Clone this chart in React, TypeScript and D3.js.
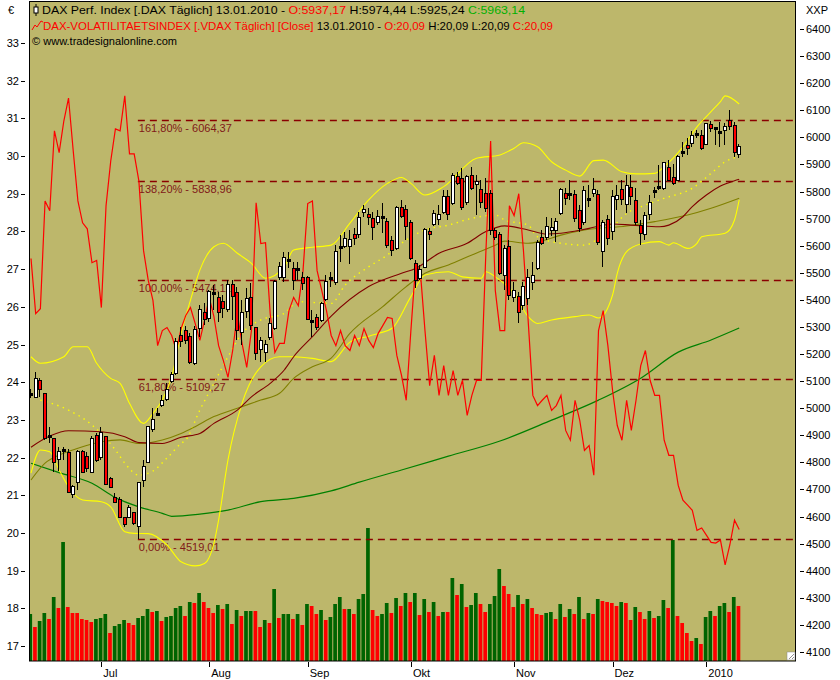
import React from "react";
import * as d3 from "d3";

// ---------- DATA ----------
const monthLabels = ["Jul", "Aug", "Sep", "Okt", "Nov", "Dez", "2010"];
const monthTickIdx = [15, 38, 59, 81, 103, 124, 144];
const leftTicks = [17, 18, 19, 20, 21, 22, 23, 24, 25, 26, 27, 28, 29, 30, 31, 32, 33];
const rightTicks = d3.range(4100, 6401, 100);

const daxOpen = [5049,5040,5100,5052,4898,4886,4811,4842,4836,4682,
 4726,4837,4821,4765,4897,4821,4892,4738,4670,4661,
 4593,4599,4612,4566,4735,4800,4922,4976,5012,5034,
 5100,5129,5268,5285,5264,5168,5295,5350,5332,5420,
 5406,5391,5365,5455,5424,5282,5360,5406,5295,5217,
 5209,5262,5295,5483,5483,5545,5514,5512,5480,5480,
 5323,5332,5326,5402,5480,5465,5595,5600,5600,5639,
 5642,5723,5713,5698,5686,5705,5686,5617,5592,5738,
 5732,5683,5531,5479,5522,5649,5679,5700,5725,5781,
 5756,5852,5846,5760,5857,5828,5806,5790,5790,5654,
 5639,5492,5596,5412,5412,5381,5406,5465,5516,5629,
 5633,5658,5658,5719,5790,5790,5787,5728,5689,5771,
 5793,5787,5580,5695,5654,5771,5806,5753,5812,5766,
 5673,5643,5716,5803,5815,5812,5886,5849,5843,5943,
 5968,5978,6012,6005,5974,6046,6033,6019,6027,6059,
 6042,5937.17];
const daxHigh = [5071,5132,5110,5056,4932,4889,4856,4858,4848,4716,
 4846,4846,4839,4897,4910,4932,4897,4747,4686,4673,
 4599,4643,4618,4723,4809,4932,5000,5002,5049,5092,
 5134,5259,5300,5304,5278,5303,5381,5388,5436,5455,
 5429,5418,5473,5473,5447,5399,5444,5462,5300,5263,
 5252,5333,5473,5540,5577,5577,5540,5540,5503,5488,
 5362,5348,5392,5492,5503,5603,5639,5651,5658,5665,
 5724,5750,5739,5724,5732,5758,5702,5636,5746,5769,
 5750,5695,5547,5529,5665,5665,5732,5750,5806,5806,
 5868,5872,5887,5861,5890,5861,5842,5850,5806,5665,
 5651,5602,5621,5466,5429,5466,5514,5540,5621,5658,
 5706,5702,5702,5813,5813,5842,5806,5750,5820,5824,
 5850,5806,5695,5713,5806,5824,5842,5861,5861,5813,
 5695,5724,5787,5817,5898,5909,5916,5901,5935,5983,
 5998,6023,6027,6027,6053,6060,6038,6057,6053,6101,
 6057,5974.44];
const daxLow = [5038,5036,5042,4882,4870,4765,4769,4809,4690,4669,
 4698,4760,4765,4760,4802,4809,4716,4704,4649,4593,
 4562,4597,4569,4519,4710,4798,4913,4971,5005,5028,
 5093,5122,5226,5237,5163,5159,5263,5307,5318,5362,
 5318,5333,5355,5326,5252,5233,5333,5289,5178,5171,
 5171,5252,5289,5473,5466,5518,5436,5473,5436,5326,
 5264,5289,5318,5396,5447,5455,5540,5591,5532,5602,
 5628,5706,5676,5621,5676,5647,5591,5562,5584,5702,
 5621,5547,5444,5473,5518,5621,5673,5676,5717,5695,
 5750,5824,5732,5750,5806,5713,5739,5724,5639,5621,
 5492,5436,5399,5392,5314,5362,5381,5436,5510,5602,
 5621,5636,5614,5713,5750,5769,5687,5651,5676,5743,
 5780,5602,5520,5602,5621,5732,5750,5721,5750,5676,
 5602,5621,5695,5776,5806,5806,5839,5824,5839,5927,
 5935,5964,5998,5953,5972,6020,5972,5964,5972,6027,
 5927,5925.24];
const daxClose = [5054,5108,5070,4889,4892,4800,4837,4846,4692,4708,
 4839,4765,4778,4885,4809,4910,4719,4708,4652,4597,
 4571,4633,4575,4723,4782,4929,4956,4979,5028,5069,
 5121,5245,5249,5252,5172,5289,5362,5328,5429,5424,
 5356,5371,5455,5415,5289,5350,5402,5307,5203,5249,
 5233,5311,5465,5520,5556,5547,5473,5514,5463,5328,
 5320,5301,5385,5467,5482,5575,5597,5623,5621,5629,
 5701,5732,5705,5668,5707,5703,5602,5584,5738,5710,
 5674,5553,5473,5510,5658,5642,5716,5713,5781,5716,
 5857,5830,5744,5852,5812,5836,5762,5738,5658,5633,
 5498,5588,5418,5433,5354,5446,5480,5488,5611,5611,
 5668,5664,5686,5806,5777,5791,5701,5664,5802,5771,
 5806,5615,5685,5627,5779,5783,5771,5820,5785,5689,
 5648,5710,5756,5803,5816,5904,5843,5830,5928,5945,
 5959,6005,6013,5960,6049,6033,6034,6019,6037,6041,
 5945,5963.14];

const vdaxClose = [27.28,25.82,25.95,28.81,28.55,30.67,30.09,30.93,31.54,30.14,
 28.81,28.23,28.07,27.17,27.23,25.98,28.68,29.87,30.72,30.67,
 31.60,30.06,30.06,29.34,27.49,26.70,26.17,24.97,25.37,25.45,
 25.24,24.84,25.42,25.77,25.98,25.56,25.11,25.64,26.25,25.74,
 24.97,24.58,24.13,24.84,25.82,25.03,24.39,25.37,28.76,27.68,
 27.70,25.82,24.79,25.03,25.03,25.90,26.25,26.03,26.96,28.74,
 28.81,26.96,26.43,25.90,25.24,24.97,25.37,24.97,24.84,25.24,
 24.97,25.42,25.11,24.92,25.29,25.50,25.72,25.69,24.71,24.18,
 23.52,25.37,27.09,26.96,25.37,23.91,24.71,23.65,24.44,23.65,
 24.31,23.65,24.05,23.12,23.65,24.05,24.05,27.49,30.40,26.43,
 25.37,25.37,28.68,28.42,29.00,27.49,25.64,23.65,23.38,23.52,
 23.65,23.25,23.38,23.65,22.72,22.46,23.52,22.99,22.19,22.32,
 21.53,25.37,25.90,24.97,23.78,22.85,22.46,23.52,22.72,23.52,
 24.44,24.84,24.05,23.65,23.65,22.46,22.06,22.06,21.26,20.87,
 20.74,20.60,20.07,20.13,19.94,19.75,19.73,19.81,19.15,19.68,
 20.34,20.09];

const volume = [47,34,40,48,42,64,53,119,54,48,
 48,42,41,39,42,43,47,28,35,37,
 41,38,36,43,45,52,49,50,40,44,
 45,53,55,45,59,58,68,59,53,48,
 56,52,57,37,51,45,50,50,50,34,
 41,38,72,43,47,47,42,47,36,57,
 55,47,51,41,44,57,64,52,52,47,
 62,67,133,51,45,47,58,48,63,55,
 68,59,68,46,62,49,59,45,49,49,
 83,66,77,54,56,68,57,49,57,65,
 92,75,67,54,66,57,62,53,47,46,
 48,49,42,57,44,52,47,64,42,48,
 47,62,60,59,58,55,59,58,41,54,
 49,42,50,43,45,61,53,121,45,38,
 28,20,23,17,44,50,45,55,58,49,
 64,55];
const volumeDir = ("grggrgrgrr" + "rrrrgggrgg" + "grrgggrgrg" + "gggrgrgrrr" + "grgrgrggrr" +
  "grgrggrgrg" + "rrgrgggrgr" + "gggrrggrgr" + "grgrgrgrgr" + "grgrggrrgg" +
  "grrrgrgrrr" + "ggrgrgrgrg" + "rgrrrrgrrg" + "rrgrggrgrr" + "rrgrggrggr" + "gr").split("");

// indicator readings: [bar index, DAX points]
const bbUpper = [[0,5190],[2,5166],[7,5190],[9,5227],[12,5227],[14,5166],[17,5110],[19,5092],[21,5018],[24,4944],[26,4981],[28,5030],[30,5116],[32,5276],[34,5399],[36,5510],[39,5596],[41,5609],[44,5572],[47,5535],[50,5480],[54,5522],[56,5584],[60,5594],[64,5602],[68,5683],[72,5769],[76,5830],[79,5852],[81,5830],[84,5787],[88,5818],[95,5923],[100,5935],[103,5960],[105,5980],[108,5965],[111,5910],[114,5879],[117,5857],[120,5914],[122,5916],[126,5873],[129,5865],[133,5867],[135,5892],[139,5965],[142,6039],[145,6095],[147,6132],[148,6153],[151,6123]];
const bbLower = [[0,4760],[2,4846],[4,4839],[6,4772],[8,4710],[11,4661],[15,4655],[17,4636],[20,4544],[22,4538],[25,4537],[29,4495],[32,4433],[35,4418],[37,4427],[39,4501],[40,4587],[42,4809],[45,5018],[49,5153],[53,5190],[56,5190],[60,5184],[64,5172],[68,5244],[72,5266],[74,5276],[77,5295],[81,5412],[84,5492],[89,5504],[92,5485],[96,5480],[97,5504],[99,5485],[103,5424],[106,5338],[108,5313],[111,5326],[116,5338],[119,5344],[121,5333],[124,5418],[125,5498],[127,5578],[130,5606],[134,5615],[136,5602],[137,5611],[140,5590],[142,5609],[143,5633],[148,5646],[150,5695],[151,5769]];
const bbMiddle = [[2,5030],[8,4993],[13,4938],[18,4846],[20,4797],[23,4753],[26,4768],[29,4816],[32,4870],[33,4883],[36,4993],[39,5092],[42,5190],[45,5276],[49,5326],[54,5350],[57,5393],[64,5387],[67,5455],[72,5522],[76,5566],[79,5609],[84,5658],[89,5676],[94,5701],[99,5713],[101,5695],[106,5676],[108,5633],[113,5609],[118,5602],[121,5627],[124,5670],[127,5719],[131,5750],[135,5775],[141,5812],[145,5867],[148,5910],[151,5929]];
const maShort = [[0,4856],[4,4897],[8,4917],[15,4913],[20,4895],[23,4873],[28,4870],[32,4893],[36,4907],[39,4944],[44,4993],[47,5042],[51,5092],[54,5141],[56,5190],[60,5264],[64,5340],[72,5449],[79,5498],[82,5516],[87,5572],[93,5609],[97,5652],[101,5673],[106,5658],[110,5643],[113,5646],[119,5664],[124,5680],[128,5676],[134,5670],[136,5676],[139,5707],[141,5744],[144,5787],[147,5820],[150,5840],[151,5845]];
const maMid = [[0,4735],[3,4797],[6,4827],[10,4852],[15,4876],[19,4883],[23,4870],[28,4883],[32,4907],[35,4932],[39,4969],[44,5000],[49,5030],[53,5055],[56,5110],[60,5153],[64,5185],[68,5276],[75,5375],[80,5449],[84,5498],[89,5529],[94,5566],[99,5602],[101,5617],[106,5609],[109,5618],[113,5639],[118,5658],[127,5673],[133,5689],[140,5713],[145,5738],[151,5775]];
const maLong = [[0,4797],[6,4762],[13,4723],[18,4670],[23,4636],[28,4612],[30,4601],[36,4609],[42,4624],[49,4655],[56,4667],[64,4695],[70,4727],[79,4772],[89,4823],[100,4879],[111,4956],[121,5030],[130,5111],[138,5207],[145,5252],[151,5296]];

const fibPct = ["161,80%", "138,20%", "100,00%", "61,80%", "0,00%"];
const fibVal = [6064.37, 5838.96, 5474.11, 5109.27, 4519.01];
const fibStartIdx = 23;

const FONT = "'Liberation Sans', Arial, sans-serif";

export default function App() {
  const PL = 29, PR = 796, PT = 1, PB = 661;
  const x = d3.scaleLinear().domain([0, 151]).range([31, 739.2]);
  const yR = d3.scaleLinear().domain([4100, 6400]).range([652, 29]);
  const yL = d3.scaleLinear().domain([17, 33]).range([646, 43]);
  const yVol = d3.scaleLinear().domain([0, 140]).range([PB, PB - 140]);

  const priceLine = d3.line<number[]>().x(d => x(d[0])).y(d => yR(d[1])).curve(d3.curveMonotoneX);
  const vdaxLine = d3.line<number>().x((_, i) => x(i)).y(d => yL(d));
  const fmt = (v: number) => v.toFixed(2).replace(".", ",");

  return (
    <svg width={840} height={680} style={{ position: "absolute", left: 0, top: 0, display: "block" }}
      fontFamily={FONT} fontSize={11}>
      <rect x={0} y={0} width={840} height={680} fill="#ffffff" />
      <defs>
        <clipPath id="plotClip">
          <rect x={PL + 0.5} y={PT} width={PR - PL - 0.5} height={PB - PT} />
        </clipPath>
      </defs>
      <rect x={PL} y={PT} width={PR - PL} height={PB - PT} fill="#BDB76B" />

      <g clipPath="url(#plotClip)">
        {/* volume */}
        {volume.map((v, i) => (
          <rect key={"v" + i} x={x(i) - 2.6} y={yVol(v)} width={3.7} height={PB - yVol(v)}
            fill={volumeDir[i] === "g" ? "#006400" : "#FF0000"} />
        ))}

        {/* fibonacci levels */}
        {fibVal.map((v, i) => (
          <g key={"f" + i}>
            <line x1={x(fibStartIdx) - 1} x2={PR} y1={Math.round(yR(v)) + 0.5} y2={Math.round(yR(v)) + 0.5}
              stroke="#8B0000" strokeWidth={1.3} strokeDasharray="7,5" />
            <text x={x(fibStartIdx)} y={yR(v) + 12.5} fill="#801818">{`${fibPct[i]} - ${fmt(v)}`}</text>
          </g>
        ))}

        {/* indicators */}
        <path d={priceLine(maLong as any) || ""} fill="none" stroke="#008000" strokeWidth={1.2} />
        <path d={priceLine(bbUpper as any) || ""} fill="none" stroke="#FFFF00" strokeWidth={1.1} />
        <path d={priceLine(bbLower as any) || ""} fill="none" stroke="#FFFF00" strokeWidth={1.1} />
        <path d={priceLine(bbMiddle as any) || ""} fill="none" stroke="#FFFF00" strokeWidth={1.4} strokeDasharray="1.4,4.5" />
        <path d={priceLine(maMid as any) || ""} fill="none" stroke="#808000" strokeWidth={1.1} />
        <path d={priceLine(maShort as any) || ""} fill="none" stroke="#800000" strokeWidth={1.1} />

        {/* VDAX */}
        <path d={vdaxLine(vdaxClose) || ""} fill="none" stroke="#FF0000" strokeWidth={1.2} />

        {/* candles */}
        {daxClose.map((c, i) => {
          const o = daxOpen[i];
          const cx = Math.round(x(i));
          const top = Math.round(yR(Math.max(o, c)));
          const bot = Math.round(yR(Math.min(o, c)));
          const h = Math.max(bot - top, 1);
          const up = c >= o;
          return (
            <g key={"c" + i} shapeRendering="crispEdges">
              <rect x={cx - 1} y={Math.round(yR(daxHigh[i]))} width={1} height={Math.max(1, Math.round(yR(daxLow[i])) - Math.round(yR(daxHigh[i])))} fill="#000" />
              <rect x={cx - 2} y={top - 1} width={4} height={h + 2} fill="#000" />
              {h > 1 && <rect x={cx - 1} y={top} width={2} height={h} fill={up ? "#FFFFFF" : "#FF0000"} />}
            </g>
          );
        })}
      </g>

      {/* frame */}
      <rect x={PL + 0.5} y={PT + 0.5} width={PR - PL - 1} height={PB - PT - 0.5} fill="none" stroke="#000" strokeWidth={1} />
      <rect x={PR - 9} y={PB - 9} width={8} height={8} fill="#ffffff" stroke="#888" strokeWidth={0.5} />
      <path d={`M${PR - 7},${PB - 2} L${PR - 2},${PB - 7} M${PR - 4},${PB - 2} L${PR - 2},${PB - 4}`} stroke="#777" strokeWidth={0.8} />

      {/* header */}
      <g style={{ whiteSpace: "pre" }}>
        <line x1={36} x2={36} y1={4} y2={16} stroke="#000" />
        <rect x={34} y={7} width={4} height={6} fill="#fff" stroke="#000" />
        <text x={42} y={14} fill="#000" textLength={483} lengthAdjust="spacingAndGlyphs">
          DAX Perf. Index [.DAX  Täglich] 13.01.2010 - <tspan fill="#FF0000">O:5937,17</tspan> H:5974,44 L:5925,24 <tspan fill="#00B000">C:5963,14</tspan>
        </text>
        <polyline points="32,30 35,25 37,27 41,21 43,22" fill="none" stroke="#FF0000" />
        <text x={43} y={30} fill="#FF0000" textLength={510} lengthAdjust="spacingAndGlyphs">
          DAX-VOLATILITAETSINDEX [.VDAX  Täglich] [Close] <tspan fill="#000">13.01.2010 - </tspan>O:20,09 <tspan fill="#000">H:20,09 L:20,09</tspan> C:20,09
        </text>
        <text x={32} y={45} fill="#000" textLength={145} lengthAdjust="spacingAndGlyphs">© www.tradesignalonline.com</text>
      </g>

      {/* left axis */}
      <text x={8} y={14} fill="#000">€</text>
      {leftTicks.map(t => (
        <g key={"l" + t}>
          <line x1={21} x2={25} y1={Math.round(yL(t)) + 0.5} y2={Math.round(yL(t)) + 0.5} stroke="#000" />
          <text x={19} y={yL(t) + 4} textAnchor="end" fill="#000">{t}</text>
        </g>
      ))}

      {/* right axis */}
      <text x={806} y={14} fill="#000">XXP</text>
      {rightTicks.map(t => (
        <g key={"r" + t}>
          <line x1={800} x2={804} y1={Math.round(yR(t)) + 0.5} y2={Math.round(yR(t)) + 0.5} stroke="#000" />
          <text x={806} y={yR(t) + 4} fill="#000">{t}</text>
        </g>
      ))}

      {/* bottom axis */}
      {monthTickIdx.map((idx, i) => (
        <g key={"m" + i}>
          <line x1={Math.round(x(idx)) + 0.5} x2={Math.round(x(idx)) + 0.5} y1={PB + 1} y2={PB + 6} stroke="#000" />
          <text x={x(idx) + 2} y={677} fill="#000">{monthLabels[i]}</text>
        </g>
      ))}
    </svg>
  );
}
